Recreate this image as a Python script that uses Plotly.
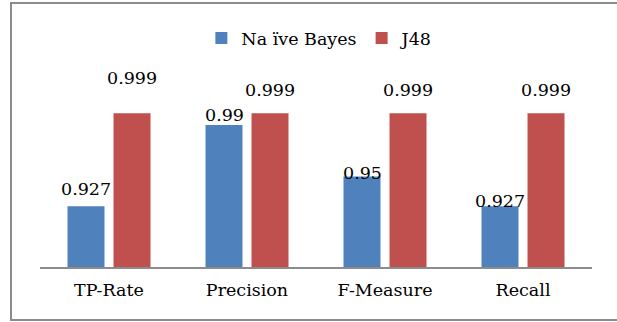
import plotly.graph_objects as go

# Classifier comparison data
metrics = ["TP-Rate", "Precision", "F-Measure", "Recall"]
naive_bayes = [0.927, 0.99, 0.95, 0.927]
j48 = [0.999, 0.999, 0.999, 0.999]
series_names = ["Na ïve Bayes", "J48"]

# Styling
BLUE = "#4F81BD"
RED = "#C0504D"
GRAY = "#8C8C8C"
FONT = "DejaVu Serif"
FS = 17.5
W, H = 617, 322
M_L, M_R, M_T, M_B = 40, 25, 112, 55
Y_MIN, Y_MAX = 0.88, 1.0
BAR_SHIFT = 23  # pixel offset of each bar from its category centre
# vertical offsets (px) of value labels above bar tops
nb_label_shift = [17, 10, 4, 5]
j48_label_shift = [35, 23, 23, 23]

fig = go.Figure()
fig.add_trace(go.Bar(x=metrics, y=naive_bayes, name=series_names[0],
                     marker=dict(color=BLUE, line=dict(width=0))))
fig.add_trace(go.Bar(x=metrics, y=j48, name=series_names[1],
                     marker=dict(color=RED, line=dict(width=0))))

# value labels
annotations = []
for i, m in enumerate(metrics):
    annotations.append(dict(x=m, y=naive_bayes[i], xref="x", yref="y",
                            text=f"{naive_bayes[i]:g}", showarrow=False,
                            xshift=-BAR_SHIFT, yshift=nb_label_shift[i],
                            yanchor="middle", xanchor="center",
                            font=dict(family=FONT, size=FS, color="black")))
    annotations.append(dict(x=m, y=j48[i], xref="x", yref="y",
                            text=f"{j48[i]:g}", showarrow=False,
                            xshift=BAR_SHIFT, yshift=j48_label_shift[i],
                            yanchor="middle", xanchor="center",
                            font=dict(family=FONT, size=FS, color="black")))

plot_w = W - M_L - M_R
plot_h = H - M_T - M_B
# outer chart frame, expressed in paper units
frame = dict(type="rect", xref="paper", yref="paper",
             x0=(11 - M_L) / plot_w, x1=(W + 5 - M_L) / plot_w,
             y0=(H - M_B - 320) / plot_h, y1=(H - M_B - 3) / plot_h,
             line=dict(color=GRAY, width=2), fillcolor="rgba(0,0,0,0)",
             layer="below")

fig.update_layout(
    width=W, height=H,
    margin=dict(l=M_L, r=M_R, t=M_T, b=M_B),
    plot_bgcolor="white", paper_bgcolor="white",
    barmode="group", bargap=0.333, bargroupgap=0.196,
    font=dict(family=FONT, size=FS, color="black"),
    showlegend=True,
    legend=dict(orientation="h", x=0.507, xanchor="center",
                y=(H - M_B - 38) / plot_h, yanchor="middle",
                font=dict(family=FONT, size=FS, color="black"),
                itemwidth=30, tracegroupgap=0, bgcolor="rgba(0,0,0,0)"),
    xaxis=dict(showline=True, linecolor=GRAY, linewidth=2,
               ticks="outside", ticklen=6, tickcolor="rgba(0,0,0,0)",
               showgrid=False, tickfont=dict(family=FONT, size=FS)),
    yaxis=dict(range=[Y_MIN, Y_MAX], visible=False, showgrid=False),
    annotations=annotations,
    shapes=[frame],
)

fig.write_html("out.html")
